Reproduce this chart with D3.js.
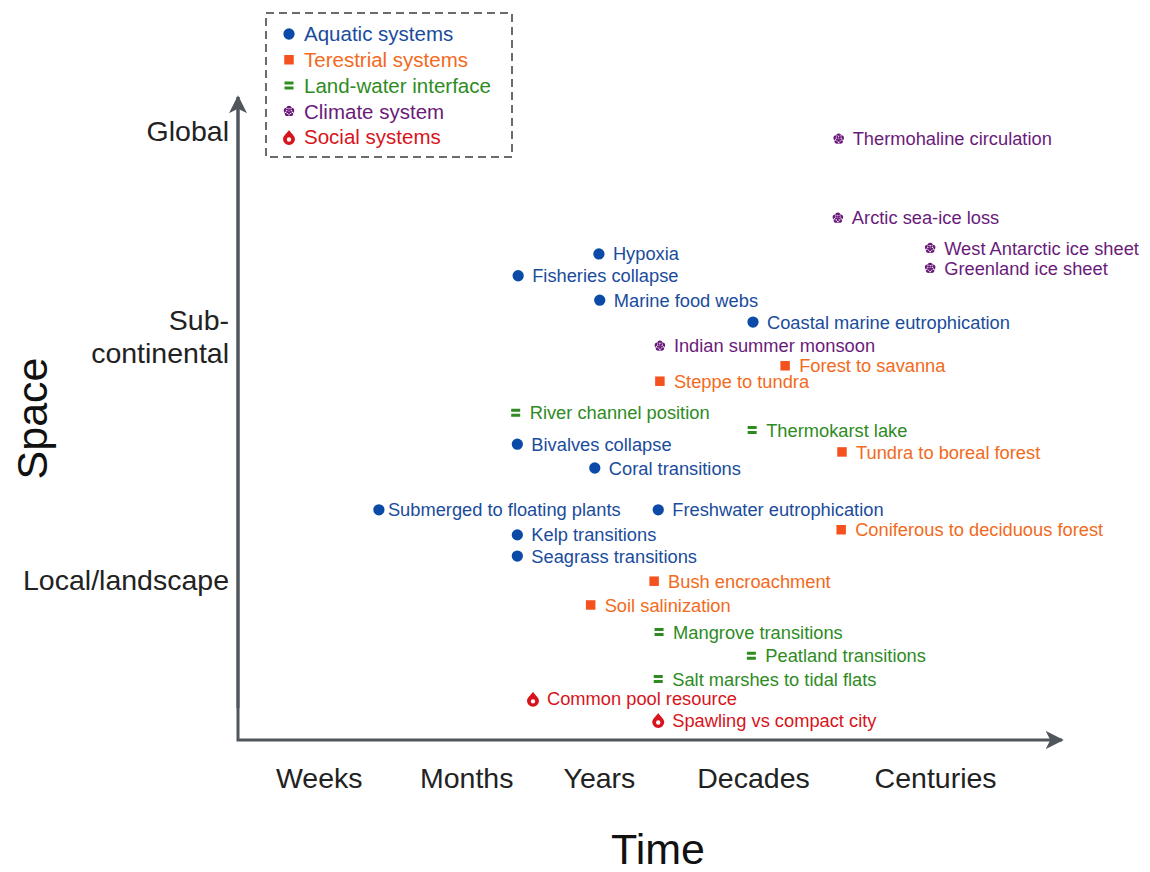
<!DOCTYPE html>
<html>
<head>
<meta charset="utf-8">
<script src="https://cdn.jsdelivr.net/npm/d3@7"></script>
<style>
  body { margin: 0; background: #fff; }
  text { font-family: "Liberation Sans", Arial, sans-serif; }
</style>
</head>
<body>
<div id="chart"></div>
<script>
// Time and space positions are in arbitrary units (0-10) along each axis
var timeTicks = ["Weeks", "Months", "Years", "Decades", "Centuries"];
var timeTickPos = [0.98, 2.77, 4.38, 6.25, 8.46];
var spaceTicks = ["Global", "Sub-|continental", "Local/landscape"];
var spaceTickPos = [9.47, 6.28, 2.49];

var groups = ["Aquatic systems", "Terestrial systems", "Land-water interface", "Climate system", "Social systems"];

var aquatic = [
  ["Hypoxia", 4.38, 7.56],
  ["Fisheries collapse", 3.40, 7.22],
  ["Marine food webs", 4.39, 6.84],
  ["Coastal marine eutrophication", 6.25, 6.50],
  ["Bivalves collapse", 3.39, 4.60],
  ["Coral transitions", 4.33, 4.23],
  ["Submerged to floating plants", 1.71, 3.58],
  ["Freshwater eutrophication", 5.10, 3.58],
  ["Kelp transitions", 3.39, 3.19],
  ["Seagrass transitions", 3.39, 2.86]
];
var terrestrial = [
  ["Forest to savanna", 6.64, 5.82],
  ["Steppe to tundra", 5.12, 5.58],
  ["Tundra to boreal forest", 7.33, 4.48],
  ["Coniferous to deciduous forest", 7.32, 3.27],
  ["Bush encroachment", 5.05, 2.47],
  ["Soil salinization", 4.28, 2.10]
];
var landWater = [
  ["River channel position", 3.37, 5.09],
  ["Thermokarst lake", 6.24, 4.82],
  ["Mangrove transitions", 5.11, 1.68],
  ["Peatland transitions", 6.23, 1.31],
  ["Salt marshes to tidal flats", 5.10, 0.95]
];
var climate = [
  ["Thermohaline circulation", 7.29, 9.35],
  ["Arctic sea-ice loss", 7.28, 8.12],
  ["West Antarctic ice sheet", 8.40, 7.65],
  ["Greenland ice sheet", 8.40, 7.34],
  ["Indian summer monsoon", 5.12, 6.13]
];
var social = [
  ["Common pool resource", 3.58, 0.64],
  ["Spawling vs compact city", 5.10, 0.31]
];

var markerColors = ["#0b4aa6", "#f4511e", "#2e8b1f", "#6a1b7a", "#d7141c"];
var textColors = ["#1a4c9c", "#f26a1c", "#2e8b1f", "#6a1b7a", "#d7141c"];

// custom marker shapes
var symEquals = { draw: function(c, size) {
  c.rect(-4.5, -4, 9, 3); c.rect(-4.5, 1, 9, 3);
} };
var symFlower = { draw: function(c, size) {
  for (var i = 0; i < 5; i++) {
    var a = -Math.PI / 2 + i * 2 * Math.PI / 5;
    var px = 2.8 * Math.cos(a), py = 2.8 * Math.sin(a);
    c.moveTo(px + 2.6, py);
    c.arc(px, py, 2.6, 0, 2 * Math.PI);
  }
  c.moveTo(3, 0); c.arc(0, 0, 3, 0, 2 * Math.PI);
} };
var symDrop = { draw: function(c, size) {
  c.moveTo(0, -7);
  c.bezierCurveTo(2, -4, 6, -1, 6, 2);
  c.arc(0, 2, 6, 0, Math.PI, false);
  c.bezierCurveTo(-6, -1, -2, -4, 0, -7);
  c.closePath();
  c.moveTo(2.2, 2.5); c.arc(0, 2.5, 2.2, 0, 2 * Math.PI, true);
} };
var symbolTypes = [d3.symbolCircle, d3.symbolSquare, symEquals, symFlower, symDrop];
var symbolSizes = [100, 90, 1, 1, 1];

var series = [aquatic, terrestrial, landWater, climate, social];

var svgWidth = 1150, svgHeight = 872;
var svg = d3.select("#chart").append("svg")
  .attr("width", svgWidth).attr("height", svgHeight);

var xScale = d3.scaleLinear().domain([0, 10]).range([238, 1062]);
var yScale = d3.scaleLinear().domain([0, 10]).range([740, 97]);

// arrow head
svg.append("defs").append("marker")
  .attr("id", "arrow")
  .attr("viewBox", "0 0 10 10")
  .attr("refX", 9).attr("refY", 5)
  .attr("markerWidth", 6).attr("markerHeight", 6)
  .attr("markerUnits", "strokeWidth")
  .attr("orient", "auto")
  .append("path")
  .attr("d", "M0,0 L10,5 L0,10 L2.5,5 Z")
  .attr("fill", "#51565c");

// axes lines
svg.append("path")
  .attr("d", "M" + xScale(0) + "," + yScale(10) + " L" + xScale(0) + "," + yScale(0) + " L" + xScale(10) + "," + yScale(0))
  .attr("fill", "none").attr("stroke", "#51565c").attr("stroke-width", 3)
  .attr("marker-end", "url(#arrow)");

svg.append("line")
  .attr("x1", xScale(0)).attr("y1", yScale(0.5))
  .attr("x2", xScale(0)).attr("y2", yScale(10))
  .attr("stroke", "#51565c").attr("stroke-width", 3)
  .attr("marker-end", "url(#arrow)");

// time axis labels
var xAxis = d3.axisBottom(xScale)
  .tickValues(timeTickPos)
  .tickFormat(function(d, i) { return timeTicks[i]; })
  .tickSize(0).tickPadding(0);
var xg = svg.append("g").attr("transform", "translate(0," + (yScale(0) + 28) + ")").call(xAxis);
xg.select(".domain").remove();
xg.selectAll("text").attr("font-size", 28.5).attr("fill", "#222")
  .attr("font-family", "Liberation Sans, Arial, sans-serif");

// space axis labels
var yAxis = d3.axisLeft(yScale)
  .tickValues(spaceTickPos)
  .tickFormat(function(d, i) { return spaceTicks[i]; })
  .tickSize(0).tickPadding(9);
var yg = svg.append("g").attr("transform", "translate(" + xScale(0) + ",0)").call(yAxis);
yg.select(".domain").remove();
yg.selectAll("text")
  .attr("font-size", 28.5).attr("fill", "#222")
  .attr("font-family", "Liberation Sans, Arial, sans-serif")
  .each(function(d, i) {
    var parts = spaceTicks[i].split("|");
    if (parts.length > 1) {
      var t = d3.select(this).text(null).attr("dy", null);
      t.append("tspan").attr("x", -9).attr("dy", "-0.22em").text(parts[0]);
      t.append("tspan").attr("x", -9).attr("dy", "1.15em").text(parts[1]);
    }
  });

// axis titles
svg.append("text")
  .attr("x", 658).attr("y", 864)
  .attr("text-anchor", "middle")
  .attr("font-size", 43).attr("fill", "#111")
  .text("Time");
svg.append("text")
  .attr("transform", "translate(47," + yScale(5) + ") rotate(-90)")
  .attr("text-anchor", "middle")
  .attr("font-size", 43).attr("fill", "#111")
  .text("Space");

// points and labels
series.forEach(function(data, gi) {
  var g = svg.append("g");
  g.selectAll("path")
    .data(data)
    .enter()
    .append("path")
    .attr("transform", function(d) { return "translate(" + xScale(d[1]) + "," + yScale(d[2]) + ")"; })
    .attr("d", d3.symbol().type(symbolTypes[gi]).size(symbolSizes[gi]))
    .attr("fill", markerColors[gi])
    .attr("fill-rule", "evenodd");
  g.selectAll("text")
    .data(data)
    .enter()
    .append("text")
    .attr("x", function(d) { return xScale(d[1]) + (d[1] < 2 ? 9 : 14); })
    .attr("y", function(d) { return yScale(d[2]); })
    .attr("dy", "0.36em")
    .attr("font-size", 18.3)
    .attr("fill", textColors[gi])
    .text(function(d) { return d[0]; });
});

// legend
var legend = svg.append("g");
legend.append("rect")
  .attr("x", 266).attr("y", 13).attr("width", 246).attr("height", 144)
  .attr("fill", "none").attr("stroke", "#6b6b6b").attr("stroke-width", 2)
  .attr("stroke-dasharray", "8,5");
var legendY = d3.scalePoint().domain(groups).range([34, 137]);
groups.forEach(function(name, gi) {
  legend.append("path")
    .attr("transform", "translate(289," + legendY(name) + ")")
    .attr("d", d3.symbol().type(symbolTypes[gi]).size(symbolSizes[gi]))
    .attr("fill", markerColors[gi])
    .attr("fill-rule", "evenodd");
  legend.append("text")
    .attr("x", 304).attr("y", legendY(name)).attr("dy", "0.36em")
    .attr("font-size", 20.5)
    .attr("fill", textColors[gi])
    .text(name);
});
</script>
</body>
</html>
